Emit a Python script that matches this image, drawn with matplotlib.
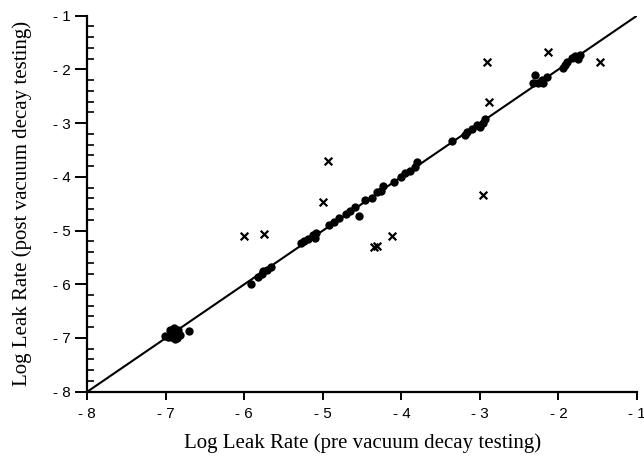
import numpy as np
import matplotlib.pyplot as plt
from matplotlib.ticker import MultipleLocator, FixedLocator

# samples that stayed on the 1:1 line (filled circles)
pre_dots = [-7.01, -6.95, -6.90, -6.86, -6.88, -6.82, -6.84, -6.70, -6.93, -6.97, -6.86,
            -5.92, -5.82, -5.78, -5.71, -5.66, -5.76,
            -5.28, -5.24, -5.19, -5.12, -5.09, -5.10,
            -4.92, -4.86, -4.80, -4.70, -4.65, -4.59, -4.54, -4.46, -4.37, -4.31,
            -4.26, -4.23, -4.10, -4.00, -3.95, -3.89, -3.83, -3.80,
            -3.36, -3.19, -3.17, -3.10, -3.04, -3.00, -2.94, -2.96,
            -2.30, -2.32, -2.26, -2.21, -2.15, -2.19,
            -1.94, -1.92, -1.89, -1.83, -1.79, -1.73, -1.75]
post_dots = [-6.96, -6.85, -6.82, -6.88, -7.01, -6.94, -6.85, -6.87, -6.98, -6.99, -7.00,
             -6.00, -5.86, -5.80, -5.73, -5.68, -5.76,
             -5.24, -5.19, -5.16, -5.08, -5.04, -5.13,
             -4.90, -4.84, -4.77, -4.69, -4.63, -4.56, -4.72, -4.43, -4.40, -4.28,
             -4.26, -4.17, -4.09, -4.00, -3.93, -3.89, -3.81, -3.72,
             -3.33, -3.22, -3.16, -3.10, -3.04, -3.07, -2.93, -3.00,
             -2.10, -2.25, -2.25, -2.20, -2.14, -2.26,
             -1.98, -1.92, -1.86, -1.79, -1.75, -1.73, -1.81]

# samples that moved off the line (crosses)
pre_x = [-6.00, -5.75, -4.93, -5.00, -4.35, -4.31, -4.12, -2.91, -2.88, -2.96, -2.13, -1.47]
post_x = [-5.10, -5.06, -3.70, -4.47, -5.31, -5.29, -5.10, -1.87, -2.61, -4.33, -1.68, -1.87]

ticks = [-8, -7, -6, -5, -4, -3, -2, -1]
tick_labels = ['- 8', '- 7', '- 6', '- 5', '- 4', '- 3', '- 2', '- 1']

fig = plt.figure(figsize=(6.44, 4.57), dpi=100)
ax = fig.add_axes([0.1356, 0.1429, 0.8534, 0.8227])

ax.plot([-8, -1], [-8, -1], color='black', linewidth=1.5, zorder=2)
ax.scatter(pre_dots, post_dots, s=36, color='black', zorder=3, linewidths=0)
ax.scatter(pre_x, post_x, s=30, marker='x', color='black', linewidths=1.6, zorder=3)

ax.set_xlim(-8, -1)
ax.set_ylim(-8, -1)

for side in ['top', 'right']:
    ax.spines[side].set_visible(False)
for side in ['left', 'bottom']:
    ax.spines[side].set_linewidth(1.6)

ax.set_xticks(ticks)
ax.set_xticklabels(tick_labels)
ax.set_yticks(ticks)
ax.set_yticklabels(tick_labels)
ax.yaxis.set_minor_locator(MultipleLocator(0.2))
ax.tick_params(axis='both', which='major', direction='out', width=1.4, labelsize=11)
ax.tick_params(axis='x', which='major', length=6, pad=5)
ax.tick_params(axis='y', which='major', length=9, pad=3)
ax.tick_params(axis='y', which='minor', direction='in', length=5, width=1.2)
for lab in ax.get_xticklabels() + ax.get_yticklabels():
    lab.set_family(['Liberation Sans', 'DejaVu Sans'])

ax.set_xlabel('Log Leak Rate (pre vacuum decay testing)',
              family=['Liberation Serif', 'DejaVu Serif'], fontsize=15, labelpad=9)
ax.set_ylabel('Log Leak Rate (post vacuum decay testing)',
              family=['Liberation Serif', 'DejaVu Serif'], fontsize=15, labelpad=15)

fig.savefig('out.png', dpi=100)
